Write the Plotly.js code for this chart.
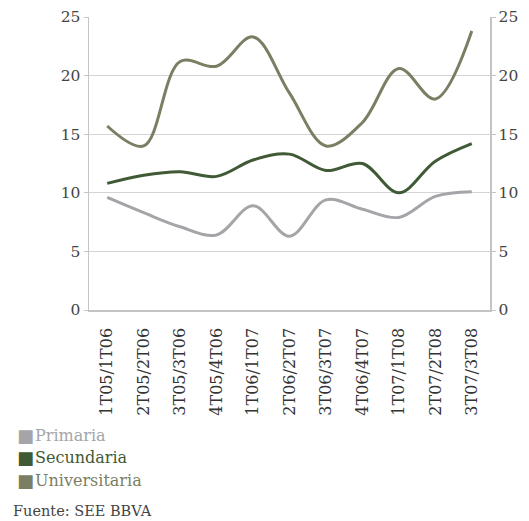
<!DOCTYPE html>
<html><head><meta charset="utf-8">
<script src="https://cdn.plot.ly/plotly-3.0.1.min.js"></script>
<style>body{margin:0;background:#fff}#c{width:529px;height:521px}</style>
</head><body><div id="c"></div>
<script>
const categories = ["1T05/1T06","2T05/2T06","3T05/3T06","4T05/4T06","1T06/1T07","2T06/2T07","3T06/3T07","4T06/4T07","1T07/1T08","2T07/2T08","3T07/3T08"];
const primaria = [9.6, 8.3, 7.1, 6.4, 8.9, 6.3, 9.4, 8.6, 7.9, 9.7, 10.1];
const secundaria = [10.8, 11.5, 11.8, 11.4, 12.8, 13.3, 11.9, 12.5, 10.0, 12.7, 14.2];
const universitaria = [15.7, 14.0, 21.2, 20.8, 23.3, 18.5, 14.0, 16.0, 20.6, 18.0, 23.8];
const seriesNames = ["Primaria","Secundaria","Universitaria"];
const colors = ["#a5a5a9","#3f5a35","#7c7e63"];
const sourceText = "Fuente: SEE BBVA";

const font = "DejaVu Serif, serif";
const vals = [primaria, secundaria, universitaria];
const traces = vals.map((v,i)=>({
  x: categories, y: v, type:"scatter", mode:"lines", name: seriesNames[i],
  line:{color:colors[i], width:3, shape:"spline", smoothing:1}, showlegend:false, hoverinfo:"skip"
}));
traces.push({x:categories, y:universitaria, yaxis:"y2", type:"scatter", mode:"lines", line:{width:0}, opacity:0, showlegend:false, hoverinfo:"skip"});

const ph = 293, pw = 401;
const annotations = [];
seriesNames.forEach((n,i)=>{
  const yp = (310 - (435 + i*22.5))/ph;
  annotations.push({xref:"paper", yref:"paper", x:(15-89)/pw, xanchor:"left", y: yp, yanchor:"middle",
    text:"■", showarrow:false, font:{family:"DejaVu Sans, sans-serif", size:18, color:colors[i]}});
  annotations.push({xref:"paper", yref:"paper", x:(33-89)/pw, xanchor:"left", y: yp, yanchor:"middle",
    text:n, showarrow:false, font:{family:font, size:16, color:colors[i]}});
});
annotations.push({xref:"paper", yref:"paper", x:(11-89)/pw, xanchor:"left", y:(310-511)/ph, yanchor:"middle", text:sourceText, showarrow:false, font:{family:font, size:14.5, color:"#444"}});

const yax = {range:[0,25], dtick:5, tick0:0, showgrid:true, gridcolor:"#d4d4d4", gridwidth:1,
  showline:true, linecolor:"#c4c4c4", linewidth:1.5, ticks:"outside", ticklen:4, tickcolor:"#c4c4c4",
  tickfont:{family:font, size:15.5, color:"#444"}, zeroline:false, fixedrange:true};
const layout = {
  width:529, height:521, margin:{l:89, r:39, t:17, b:211},
  paper_bgcolor:"#fff", plot_bgcolor:"#fff", showlegend:false,
  xaxis:{type:"category", range:[-0.5,10.5], tickangle:-90, showgrid:false, showline:true, linecolor:"#c4c4c4", linewidth:1.5,
    ticks:"outside", ticklen:10, tickcolor:"rgba(0,0,0,0)", tickfont:{family:font, size:16, color:"#333"}, fixedrange:true},
  yaxis:Object.assign({}, yax, {side:"left"}),
  yaxis2:Object.assign({}, yax, {side:"right", overlaying:"y", showgrid:false}),
  annotations: annotations
};
Plotly.newPlot("c", traces, layout, {staticPlot:true});
</script></body></html>
